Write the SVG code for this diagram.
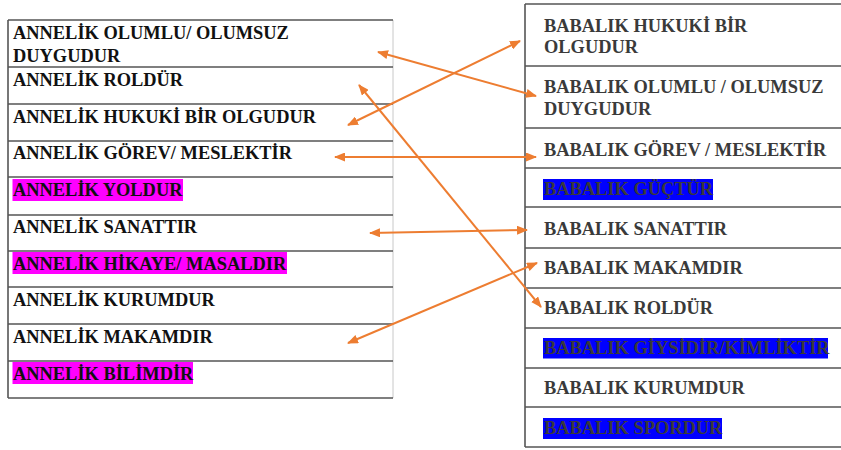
<svg xmlns="http://www.w3.org/2000/svg" width="841" height="450" viewBox="0 0 841 450">
  <style>
    .row { fill: #ffffff; }
    .rule { stroke: #555555; stroke-width: 1.6; fill: none; }
    .edge { stroke: #c8c8c8; stroke-width: 1; fill: none; }
    .t { font-family: "Liberation Serif", "Times New Roman", serif; font-weight: bold; font-size: 18.4px; }
    .tl { fill: #111111; }
    .tr { fill: #3a3a3a; }
    .pink { fill: #ff00ff; }
    .blue { fill: #0000ff; }
    .link { stroke: #ed7d31; stroke-width: 2; fill: none; marker-start: url(#head); marker-end: url(#head); }
  </style>
  <defs>
    <marker id="head" markerUnits="userSpaceOnUse" markerWidth="11" markerHeight="9" refX="10" refY="4.5" orient="auto-start-reverse">
      <path d="M0,0 L11,4.5 L0,9 Z" fill="#ed7d31"/>
    </marker>
  </defs>

  <rect width="841" height="450" fill="#ffffff"/>

  <!-- left table frame -->
  <g id="left-frame">
    <line class="edge" x1="393" y1="20" x2="393" y2="398"/>
    <line class="rule" x1="8" y1="20" x2="8" y2="398"/>
    <line class="rule" x1="8" y1="20" x2="393" y2="20"/>
    <line class="rule" x1="8" y1="67" x2="393" y2="67"/>
    <line class="rule" x1="8" y1="104" x2="393" y2="104"/>
    <line class="rule" x1="8" y1="141" x2="393" y2="141"/>
    <line class="rule" x1="8" y1="177" x2="393" y2="177"/>
    <line class="rule" x1="8" y1="215" x2="393" y2="215"/>
    <line class="rule" x1="8" y1="251" x2="393" y2="251"/>
    <line class="rule" x1="8" y1="287" x2="393" y2="287"/>
    <line class="rule" x1="8" y1="324" x2="393" y2="324"/>
    <line class="rule" x1="8" y1="361" x2="393" y2="361"/>
    <line class="rule" x1="8" y1="398" x2="393" y2="398"/>
  </g>

  <!-- left column entries -->
  <g id="anne-duygu"><text class="t tl" x="13" y="39">ANNELİK OLUMLU/ OLUMSUZ</text><text class="t tl" x="13" y="62">DUYGUDUR</text></g>
  <g id="anne-rol"><text class="t tl" x="13" y="86">ANNELİK ROLDÜR</text></g>
  <g id="anne-hukuk"><text class="t tl" x="13" y="123">ANNELİK HUKUKİ BİR OLGUDUR</text></g>
  <g id="anne-gorev"><text class="t tl" x="13" y="159">ANNELİK GÖREV/ MESLEKTİR</text></g>
  <g id="anne-yol"><rect class="pink" x="12.5" y="179" width="170.5" height="22"/><text class="t tl" x="13" y="196">ANNELİK YOLDUR</text></g>
  <g id="anne-sanat"><text class="t tl" x="13" y="233">ANNELİK SANATTIR</text></g>
  <g id="anne-hikaye"><rect class="pink" x="12.5" y="252" width="274.5" height="22"/><text class="t tl" x="13" y="270">ANNELİK HİKAYE/ MASALDIR</text></g>
  <g id="anne-kurum"><text class="t tl" x="13" y="306">ANNELİK KURUMDUR</text></g>
  <g id="anne-makam"><text class="t tl" x="13" y="343">ANNELİK MAKAMDIR</text></g>
  <g id="anne-bilim"><rect class="pink" x="12.5" y="362" width="180.5" height="22"/><text class="t tl" x="13" y="380">ANNELİK BİLİMDİR</text></g>

  <!-- right table frame -->
  <g id="right-frame">
    <line class="rule" x1="525" y1="4" x2="525" y2="447"/>
    <line class="rule" x1="525" y1="4" x2="841" y2="4"/>
    <line class="rule" x1="525" y1="66" x2="841" y2="66"/>
    <line class="rule" x1="525" y1="128" x2="841" y2="128"/>
    <line class="rule" x1="525" y1="168" x2="841" y2="168"/>
    <line class="rule" x1="525" y1="207" x2="841" y2="207"/>
    <line class="rule" x1="525" y1="248" x2="841" y2="248"/>
    <line class="rule" x1="525" y1="288" x2="841" y2="288"/>
    <line class="rule" x1="525" y1="328" x2="841" y2="328"/>
    <line class="rule" x1="525" y1="368" x2="841" y2="368"/>
    <line class="rule" x1="525" y1="407" x2="841" y2="407"/>
    <line class="rule" x1="525" y1="447" x2="841" y2="447"/>
  </g>

  <!-- right column entries -->
  <g id="baba-hukuk"><text class="t tr" x="544" y="32">BABALIK HUKUKİ BİR</text><text class="t tr" x="544" y="53">OLGUDUR</text></g>
  <g id="baba-duygu"><text class="t tr" x="544" y="93">BABALIK OLUMLU / OLUMSUZ</text><text class="t tr" x="544" y="115">DUYGUDUR</text></g>
  <g id="baba-gorev"><text class="t tr" x="544" y="156">BABALIK GÖREV / MESLEKTİR</text></g>
  <g id="baba-guc"><rect class="blue" x="543" y="179" width="170" height="21"/><text class="t tr" x="544" y="195">BABALIK GÜÇTÜR</text></g>
  <g id="baba-sanat"><text class="t tr" x="544" y="235">BABALIK SANATTIR</text></g>
  <g id="baba-makam"><text class="t tr" x="544" y="274">BABALIK MAKAMDIR</text></g>
  <g id="baba-rol"><text class="t tr" x="544" y="314">BABALIK ROLDÜR</text></g>
  <g id="baba-giysi"><rect class="blue" x="543" y="338" width="285" height="20.5"/><text class="t tr" x="544" y="354">BABALIK GİYSİDİR/KİMLİKTİR</text></g>
  <g id="baba-kurum"><text class="t tr" x="544" y="394">BABALIK KURUMDUR</text></g>
  <g id="baba-spor"><rect class="blue" x="543" y="418" width="179" height="21"/><text class="t tr" x="544" y="434">BABALIK SPORDUR</text></g>

  <!-- matching links -->
  <g id="connectors">
    <line class="link" x1="378" y1="52" x2="536" y2="96"/>
    <line class="link" x1="348" y1="125" x2="520" y2="41"/>
    <line class="link" x1="335" y1="157" x2="536" y2="157"/>
    <line class="link" x1="359" y1="85" x2="541" y2="307"/>
    <line class="link" x1="370" y1="233" x2="527" y2="230"/>
    <line class="link" x1="348" y1="343" x2="537" y2="263"/>
  </g>
</svg>
